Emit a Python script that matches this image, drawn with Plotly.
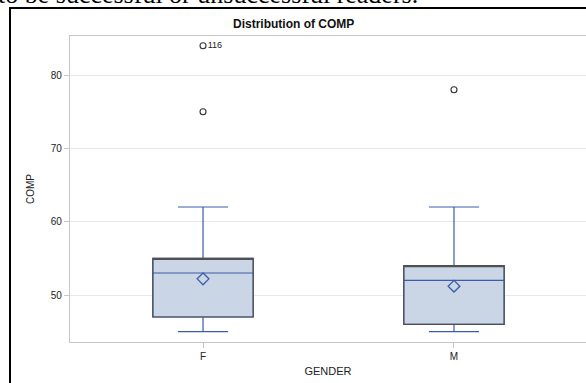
import plotly.graph_objects as go

categories = ["F", "M"]
q1 = [47, 46]
median = [53, 52]
q3 = [55, 54]
lower_whisker = [45, 45]
upper_whisker = [62, 62]
means = [52.2, 51.2]
outlier_cat = ["F", "F", "M"]
outlier_val = [84, 75, 78]
outlier_label = ["116", "", ""]

BLUE = "#3D5CA8"
FILL = "#CAD5E5"
EDGE = "#505050"

W, H = 586, 383
ML, MR, MT, MB = 70, 0, 36, 41
PW, PH = W - ML - MR, H - MT - MB


def px_x(p):
    return (p - ML) / PW


def px_y(p):
    return (H - MB - p) / PH


fig = go.Figure()

# Box with blue whiskers and median
fig.add_trace(go.Box(
    x=categories, q1=q1, median=median, q3=q3,
    lowerfence=lower_whisker, upperfence=upper_whisker,
    width=0.4, whiskerwidth=0.5,
    fillcolor=FILL, line=dict(color=BLUE, width=1.2),
    boxpoints=False, showlegend=False, hoverinfo="skip",
))
# Dark outline of the box
fig.add_trace(go.Box(
    x=categories, q1=q1, median=q3, q3=q3,
    lowerfence=q1, upperfence=q3,
    width=0.4, whiskerwidth=0,
    fillcolor="rgba(0,0,0,0)", line=dict(color=EDGE, width=1.2),
    boxpoints=False, showlegend=False, hoverinfo="skip",
))
# Means
fig.add_trace(go.Scatter(
    x=categories, y=means, mode="markers",
    marker=dict(symbol="diamond-open", size=9, color=BLUE, line=dict(width=1.3, color=BLUE)),
    showlegend=False, hoverinfo="skip",
))
# Outliers
fig.add_trace(go.Scatter(
    x=outlier_cat, y=outlier_val, mode="markers+text",
    text=outlier_label, textposition="middle right",
    textfont=dict(family="Liberation Sans, Arial", size=9, color="#222"),
    marker=dict(symbol="circle-open", size=6, color="#333", line=dict(width=1.1, color="#333")),
    showlegend=False, hoverinfo="skip",
))

# Outer frame of the pasted graphic
fig.add_shape(type="rect", xref="paper", yref="paper",
              x0=px_x(10), x1=px_x(W + 20), y0=px_y(H + 20), y1=px_y(8),
              line=dict(color="black", width=2), fillcolor="rgba(0,0,0,0)", layer="above")

fig.add_annotation(
    text="<b>Distribution of COMP</b>", xref="paper", yref="paper",
    x=px_x(293), y=px_y(24), xanchor="center", yanchor="middle", showarrow=False,
    font=dict(family="Liberation Sans, Arial", size=12, color="#111"),
)
# Cut-off document text above the graphic
fig.add_annotation(
    text="to be successful or unsuccessful readers.", xref="paper", yref="paper",
    x=px_x(-4), y=px_y(11), xanchor="left", yanchor="bottom", showarrow=False,
    font=dict(family="Liberation Serif, Times New Roman", size=26, color="black"),
)

fig.update_layout(
    width=W, height=H,
    margin=dict(l=ML, r=MR, t=MT, b=MB),
    paper_bgcolor="white", plot_bgcolor="white",
    boxmode="overlay",
    font=dict(family="Liberation Sans, Arial", size=10, color="#333"),
    xaxis=dict(
        type="category", categoryorder="array", categoryarray=categories,
        range=[-0.53, 1.526],
        showgrid=False, zeroline=False,
        showline=True, linecolor="#C4C8CC", linewidth=1.3, mirror=True,
        ticks="outside", ticklen=5, tickcolor="#C4C8CC",
        tickfont=dict(size=10, color="#222"),
        title=dict(text="GENDER", font=dict(size=11, color="#222"), standoff=6),
    ),
    yaxis=dict(
        range=[43.59, 85.32],
        tickvals=[50, 60, 70, 80],
        showgrid=True, gridcolor="#E8E8E8", gridwidth=1,
        zeroline=False,
        showline=True, linecolor="#C4C8CC", linewidth=1.3, mirror=True,
        ticks="outside", ticklen=5, tickcolor="#C4C8CC",
        tickfont=dict(size=10, color="#222"),
        title=dict(text="COMP", font=dict(size=10, color="#222"), standoff=14),
    ),
)

fig.write_html("out.html")
